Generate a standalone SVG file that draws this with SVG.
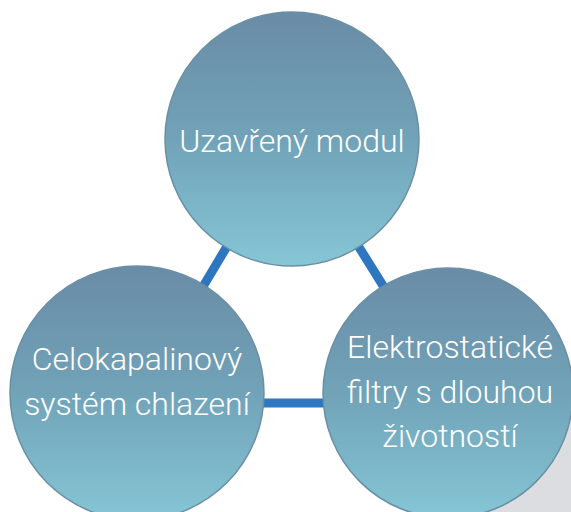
<svg xmlns="http://www.w3.org/2000/svg" width="571" height="512" viewBox="0 0 571 512">
  <defs>
    <linearGradient id="g" x1="0" y1="0" x2="0" y2="1">
      <stop offset="0" stop-color="#6a8ca6"/>
      <stop offset="0.5" stop-color="#71a3b8"/>
      <stop offset="1" stop-color="#85c6d5"/>
    </linearGradient>
    <style>
      .c { fill: url(#g); stroke: #6a8fa5; stroke-width: 1.5; }
      .t { fill: #ffffff; font-family: Roboto, "Liberation Sans", sans-serif; font-weight: 300; font-size: 32px; text-anchor: middle; }
      .e { stroke: #2e76c0; stroke-width: 9; fill: none; }
    </style>
  </defs>
  <rect width="571" height="512" fill="#ffffff"/>
  <polygon points="571,370 571,512 450,512" fill="#dcdde0"/>
  <g id="connectors">
    <line class="e" x1="232" y1="238" x2="195" y2="300"/>
    <line class="e" x1="352" y1="236" x2="392" y2="300"/>
    <line class="e" x1="255" y1="403" x2="332" y2="403"/>
  </g>
  <g id="node-top">
    <circle class="c" cx="292" cy="139" r="127"/>
    <text class="t" x="292" y="152">Uzavřený modul</text>
  </g>
  <g id="node-left">
    <circle class="c" cx="137" cy="393" r="127"/>
    <text class="t" x="137" y="370">Celokapalinový</text>
    <text class="t" x="137" y="415">systém chlazení</text>
  </g>
  <g id="node-right">
    <circle class="c" cx="448" cy="393" r="125"/>
    <text class="t" x="450" y="358">Elektrostatické</text>
    <text class="t" x="450" y="403">filtry s dlouhou</text>
    <text class="t" x="450" y="447">životností</text>
  </g>
</svg>
